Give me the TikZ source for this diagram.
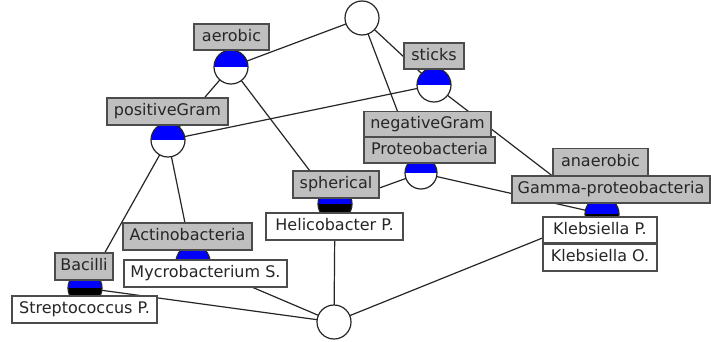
\documentclass[tikz,border=0pt]{standalone}
\usepackage{fontspec}
\setmainfont{DejaVu Sans}
\usetikzlibrary{backgrounds}
\begin{document}
\begin{tikzpicture}[x=1pt,y=-1pt,
  edge/.style={line width=1.2pt, draw=black!85},
  concept/.style={circle, draw=black!85, line width=1.2pt, fill=white, minimum size=34pt, inner sep=0pt},
  attrc/.style={concept, path picture={\fill[blue] (path picture bounding box.west) rectangle (path picture bounding box.north east);}},
  attrobj/.style={concept, path picture={\fill[blue] (path picture bounding box.west) rectangle (path picture bounding box.north east);
     \fill[black] (path picture bounding box.west) rectangle (path picture bounding box.south east);}},
  box/.style={draw=black!70, line width=1.2pt, inner sep=0pt, text=black!85,
     font=\fontsize{16}{18}\selectfont, text height=12pt, text depth=3.5pt},
  lab/.style={box, fill=gray!50},
  obj/.style={box, fill=white}
]
\useasboundingbox (0,0) rectangle (711,342);

% concept circles
\node[concept] (top) at (362,18) {};
\node[attrc] (aer) at (231,67) {};
\node[attrc] (sti) at (434,85) {};
\node[attrc] (pos) at (168,140) {};
\node[attrc, minimum size=32pt] (pro) at (421,173) {};
\node[attrobj] (sph) at (335,204) {};
\node[attrobj] (gam) at (602,214) {};
\node[attrobj] (act) at (193,262) {};
\node[attrobj] (bac) at (85,288) {};
\node[concept] (bot) at (334,322) {};

% edges
\begin{scope}[on background layer]
\fill[white] (0,0) rectangle (711,342);
\draw[edge] (top.center) -- (aer.center);
\draw[edge] (top.center) -- (sti.center);
\draw[edge] (top.center) -- (pro.center);
\draw[edge] (aer.center) -- (pos.center);
\draw[edge] (aer.center) -- (sph.center);
\draw[edge] (sti.center) -- (pos.center);
\draw[edge] (sti.center) -- (gam.center);
\draw[edge] (pro.center) -- (sph.center);
\draw[edge] (pro.center) -- (gam.center);
\draw[edge] (pos.center) -- (bac.center);
\draw[edge] (pos.center) -- (act.center);
\draw[edge] (bac.center) -- (bot.center);
\draw[edge] (act.center) -- (bot.center);
\draw[edge] (sph.center) -- (bot.center);
\draw[edge] (gam.center) -- (bot.center);
\end{scope}

% attribute labels
\node[lab, minimum width=75pt, minimum height=26pt] (l-aer) at (231.5,37) {aerobic};
\node[lab, minimum width=60pt, minimum height=26pt] (l-sti) at (434,56) {sticks};
\node[lab, minimum width=121pt, minimum height=27pt] (l-pos) at (167.5,111.5) {positiveGram};
\node[lab, minimum width=127pt, minimum height=26pt] (l-neg) at (427.5,124.5) {negativeGram};
\node[lab, minimum width=131pt, minimum height=26pt] (l-pro) at (429.5,150) {Proteobacteria};
\node[lab, minimum width=86pt, minimum height=27pt] (l-sph) at (336,184.5) {spherical};
\node[lab, minimum width=95pt, minimum height=27pt] (l-ana) at (600.5,162) {anaerobic};
\node[lab, minimum width=198pt, minimum height=27pt] (l-gam) at (611,189.5) {Gamma-proteobacteria};
\node[lab, minimum width=129pt, minimum height=27pt] (l-act) at (187.5,236.5) {Actinobacteria};
\node[lab, minimum width=58pt, minimum height=27pt] (l-bac) at (84,266.5) {Bacilli};

% object labels
\node[obj, minimum width=137pt, minimum height=27pt] (o-hel) at (334.5,226.5) {Helicobacter P.};
\node[obj, minimum width=114pt, minimum height=26pt] (o-kp) at (600,230) {Klebsiella P.};
\node[obj, minimum width=114pt, minimum height=27pt] (o-ko) at (600,257.5) {Klebsiella O.};
\node[obj, minimum width=163pt, minimum height=27pt] (o-myc) at (205.5,273.5) {Mycrobacterium S.};
\node[obj, minimum width=145pt, minimum height=27pt] (o-str) at (84.5,309.5) {Streptococcus P.};
\end{tikzpicture}
\end{document}
